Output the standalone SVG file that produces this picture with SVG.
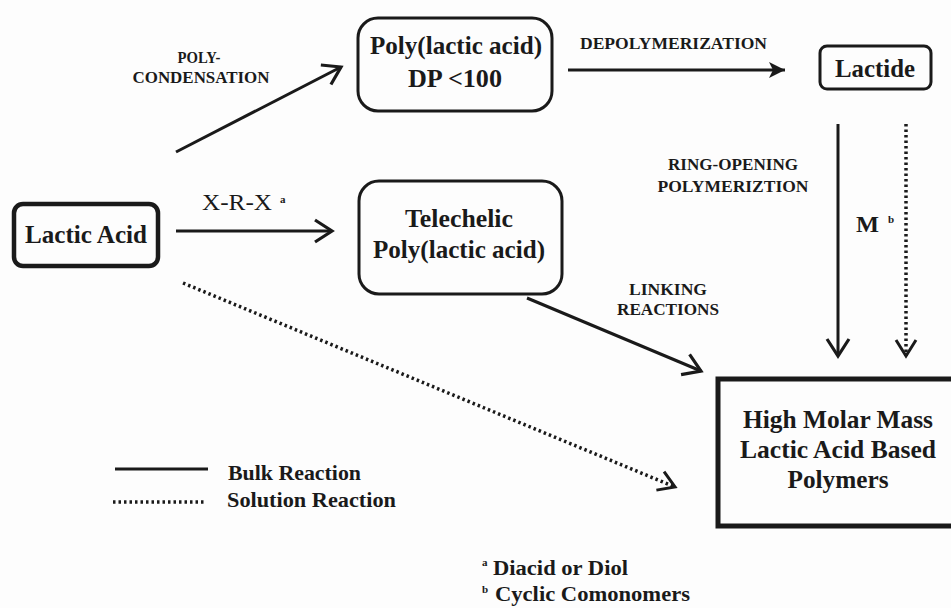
<svg xmlns="http://www.w3.org/2000/svg" width="951" height="608" viewBox="0 0 951 608">
<style>
text{font-family:"Liberation Serif","Times New Roman",serif;font-weight:bold;fill:#1a1a1a}
.big{font-size:25px}
.lab{font-size:16px}
.leg{font-size:21px}
.sup{font-size:11px}
.box{fill:none;stroke:#1a1a1a}
.ln{fill:none;stroke:#1a1a1a;stroke-width:3}
.dot{fill:none;stroke:#1a1a1a;stroke-width:3.5;stroke-dasharray:2.5 3}
</style>
<defs>
<marker id="open" markerUnits="userSpaceOnUse" markerWidth="24" markerHeight="28" viewBox="0 0 24 28" refX="20" refY="14" orient="auto">
<path d="M3,3 L20,14 L3,25" fill="none" stroke="#1a1a1a" stroke-width="3.2" stroke-linejoin="miter"/>
</marker>
<marker id="openTri" markerUnits="userSpaceOnUse" markerWidth="24" markerHeight="28" viewBox="0 0 24 28" refX="20" refY="14" orient="auto">
<path d="M4,4 L20,14 L4,24" fill="none" stroke="#1a1a1a" stroke-width="3" stroke-linejoin="miter"/>
</marker>
<marker id="fill" markerUnits="userSpaceOnUse" markerWidth="20" markerHeight="20" viewBox="0 0 20 20" refX="18" refY="10" orient="auto">
<path d="M2,2 L18,10 L2,18 L6,10 Z" fill="#1a1a1a"/>
</marker>
</defs>
<rect width="951" height="608" fill="#fdfdfd"/>

<g id="lactic-acid">
<rect class="box" x="14" y="204" width="144" height="62" rx="9" stroke-width="4.5"/>
<text class="big" x="86" y="243" text-anchor="middle" textLength="122" lengthAdjust="spacingAndGlyphs">Lactic Acid</text>
</g>
<g id="pla-low">
<rect class="box" x="358" y="18" width="194" height="93" rx="20" stroke-width="3"/>
<text class="big" x="456" y="54" text-anchor="middle" textLength="172" lengthAdjust="spacingAndGlyphs">Poly(lactic acid)</text>
<text class="big" x="455" y="87" text-anchor="middle" textLength="94" lengthAdjust="spacingAndGlyphs">DP &lt;100</text>
</g>
<g id="telechelic">
<rect class="box" x="359" y="181" width="203" height="113" rx="20" stroke-width="3"/>
<text class="big" x="459" y="227" text-anchor="middle" textLength="108" lengthAdjust="spacingAndGlyphs">Telechelic</text>
<text class="big" x="459" y="258" text-anchor="middle" textLength="172" lengthAdjust="spacingAndGlyphs">Poly(lactic acid)</text>
</g>
<g id="lactide">
<rect class="box" x="820" y="46" width="111" height="43" rx="7" stroke-width="3"/>
<text class="big" x="875" y="77" text-anchor="middle" textLength="80" lengthAdjust="spacingAndGlyphs">Lactide</text>
</g>
<g id="high-molar">
<rect class="box" x="718" y="379" width="245" height="147" stroke-width="5"/>
<text class="big" x="838" y="428" text-anchor="middle" textLength="190" lengthAdjust="spacingAndGlyphs">High Molar Mass</text>
<text class="big" x="838" y="458" text-anchor="middle" textLength="196" lengthAdjust="spacingAndGlyphs">Lactic Acid Based</text>
<text class="big" x="838" y="488" text-anchor="middle" textLength="101" lengthAdjust="spacingAndGlyphs">Polymers</text>
</g>

<g id="connectors">
<line class="ln" x1="176" y1="152" x2="341" y2="67" marker-end="url(#open)"/>
<line class="ln" x1="176" y1="231" x2="332" y2="231" marker-end="url(#open)"/>
<line class="ln" x1="568" y1="70" x2="785" y2="70" marker-end="url(#fill)"/>
<line class="ln" x1="838" y1="124" x2="838" y2="356" marker-end="url(#open)"/>
<line class="dot" x1="906" y1="124" x2="906" y2="356" marker-end="url(#openTri)"/>
<line class="ln" x1="527" y1="298" x2="701" y2="371" marker-end="url(#open)"/>
<line class="dot" x1="183" y1="283" x2="675" y2="487" marker-end="url(#openTri)"/>
</g>

<g id="labels">
<text class="lab" x="199" y="63" text-anchor="middle" textLength="43" lengthAdjust="spacingAndGlyphs">POLY-</text>
<text class="lab" x="201" y="83" text-anchor="middle" textLength="137" lengthAdjust="spacingAndGlyphs">CONDENSATION</text>
<text x="202" y="210" style="font-size:23px;font-weight:normal" textLength="70" lengthAdjust="spacingAndGlyphs">X-R-X</text>
<text class="sup" x="280" y="203">a</text>
<text class="lab" x="580" y="49" textLength="187" lengthAdjust="spacingAndGlyphs">DEPOLYMERIZATION</text>
<text class="lab" x="733" y="170" text-anchor="middle" textLength="130" lengthAdjust="spacingAndGlyphs">RING-OPENING</text>
<text class="lab" x="733" y="192" text-anchor="middle" textLength="151" lengthAdjust="spacingAndGlyphs">POLYMERIZTION</text>
<text x="856" y="232" style="font-size:24px" textLength="23" lengthAdjust="spacingAndGlyphs">M</text>
<text class="sup" x="888" y="223">b</text>
<text class="lab" x="668" y="295" text-anchor="middle" textLength="78" lengthAdjust="spacingAndGlyphs">LINKING</text>
<text class="lab" x="668" y="315" text-anchor="middle" textLength="102" lengthAdjust="spacingAndGlyphs">REACTIONS</text>
</g>

<g id="legend">
<line x1="115" y1="469" x2="208" y2="469" stroke="#1a1a1a" stroke-width="3"/>
<text class="leg" x="228" y="480" textLength="133" lengthAdjust="spacingAndGlyphs">Bulk Reaction</text>
<line x1="113" y1="502" x2="204" y2="502" stroke="#1a1a1a" stroke-width="3.5" stroke-dasharray="2.5 3"/>
<text class="leg" x="227" y="507" textLength="169" lengthAdjust="spacingAndGlyphs">Solution Reaction</text>
</g>

<g id="footnotes">
<text class="sup" x="482" y="566">a</text>
<text class="leg" x="493" y="575" style="font-size:20px" textLength="135" lengthAdjust="spacingAndGlyphs">Diacid or Diol</text>
<text class="sup" x="482" y="593">b</text>
<text class="leg" x="495" y="601" style="font-size:20px" textLength="195" lengthAdjust="spacingAndGlyphs">Cyclic Comonomers</text>
</g>
</svg>
